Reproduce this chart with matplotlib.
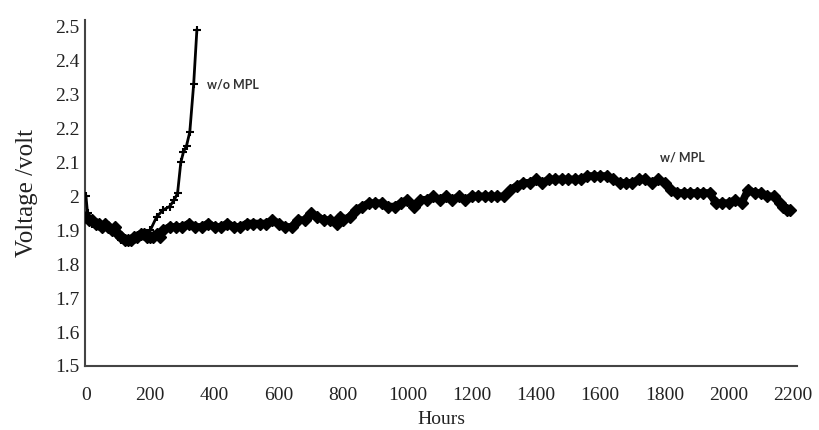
import matplotlib
matplotlib.use("Agg")
import matplotlib.pyplot as plt

# --- data -------------------------------------------------------------
mpl_hours = [0, 10, 20, 30, 40, 50, 60, 70, 80, 90, 100, 110, 120, 130, 140,
             150, 160, 170, 180, 190, 200, 210, 220, 230, 240, 260, 280, 300,
             320, 340, 360, 380, 400, 420, 440, 460, 480, 500, 520, 540, 560,
             580, 600, 620, 640, 660, 680, 700, 720, 740, 760, 780, 790, 800,
             820, 840, 860, 880, 900, 920, 940, 960, 980, 1000, 1020, 1040,
             1060, 1080, 1100, 1120, 1140, 1160, 1180, 1200, 1220, 1240, 1260,
             1280, 1300, 1320, 1340, 1360, 1380, 1400, 1420, 1440, 1460, 1480,
             1500, 1520, 1540, 1560, 1580, 1600, 1620, 1640, 1660, 1680, 1700,
             1720, 1740, 1760, 1780, 1800, 1820, 1840, 1860, 1880, 1900, 1920,
             1940, 1960, 1980, 2000, 2020, 2040, 2060, 2080, 2100, 2120, 2140,
             2160, 2170, 2180, 2190]
mpl_volts = [1.94, 1.93, 1.93, 1.92, 1.92, 1.91, 1.92, 1.91, 1.90, 1.91, 1.89,
             1.88, 1.87, 1.87, 1.87, 1.88, 1.88, 1.89, 1.89, 1.88, 1.88, 1.88,
             1.89, 1.88, 1.90, 1.91, 1.91, 1.91, 1.92, 1.91, 1.91, 1.92, 1.91,
             1.91, 1.92, 1.91, 1.91, 1.92, 1.92, 1.92, 1.92, 1.93, 1.92, 1.91,
             1.91, 1.93, 1.93, 1.95, 1.94, 1.93, 1.93, 1.92, 1.94, 1.93, 1.94,
             1.96, 1.97, 1.98, 1.98, 1.98, 1.97, 1.97, 1.98, 1.99, 1.97, 1.99,
             1.99, 2.00, 1.99, 2.00, 1.99, 2.00, 1.99, 2.00, 2.00, 2.00, 2.00,
             2.00, 2.00, 2.02, 2.03, 2.04, 2.04, 2.05, 2.04, 2.05, 2.05, 2.05,
             2.05, 2.05, 2.05, 2.06, 2.06, 2.06, 2.06, 2.05, 2.04, 2.04, 2.04,
             2.05, 2.05, 2.04, 2.05, 2.04, 2.02, 2.01, 2.01, 2.01, 2.01, 2.01,
             2.01, 1.98, 1.98, 1.98, 1.99, 1.98, 2.02, 2.01, 2.01, 2.00, 2.00,
             1.98, 1.97, 1.96, 1.96]

nompl_hours = [0, 5, 20, 50, 80, 110, 140, 170, 200, 220, 240, 260, 275, 285,
               295, 303, 313, 323, 335, 345]
nompl_volts = [2.00, 1.95, 1.92, 1.91, 1.90, 1.87, 1.87, 1.88, 1.90, 1.94,
               1.96, 1.97, 1.99, 2.01, 2.10, 2.13, 2.15, 2.19, 2.33, 2.49]

x_ticks = [0, 200, 400, 600, 800, 1000, 1200, 1400, 1600, 1800, 2000, 2200]
y_ticks = [1.5, 1.6, 1.7, 1.8, 1.9, 2.0, 2.1, 2.2, 2.3, 2.4, 2.5]
y_tick_labels = ["1.5", "1.6", "1.7", "1.8", "1.9", "2", "2.1", "2.2", "2.3",
                 "2.4", "2.5"]

# --- figure -----------------------------------------------------------
fig = plt.figure(figsize=(8.19, 4.30), dpi=100)
ax = fig.add_axes([85 / 819, 64 / 430, (797 - 85) / 819, (366 - 20) / 430])

ax.plot(mpl_hours, mpl_volts, color="black", lw=5.5, marker="D",
        markersize=6, solid_joinstyle="round", solid_capstyle="round",
        zorder=3)
ax.plot(nompl_hours, nompl_volts, color="black", lw=2, marker="+",
        markersize=6, markeredgewidth=1.5, zorder=4)

ax.set_xlim(-3, 2212)
ax.set_ylim(1.5, 2.52)
ax.set_xticks(x_ticks)
ax.set_xticklabels([str(t) for t in x_ticks])
ax.set_yticks(y_ticks)
ax.set_yticklabels(y_tick_labels)

serif = "Liberation Serif"
for lab in ax.get_xticklabels() + ax.get_yticklabels():
    lab.set_fontfamily(serif)
    lab.set_fontsize(14)
    lab.set_color("#222222")
ax.tick_params(axis="both", length=0)
ax.tick_params(axis="x", pad=15)
ax.tick_params(axis="y", pad=4)

for s in ["top", "right"]:
    ax.spines[s].set_visible(False)
for s in ["left", "bottom"]:
    ax.spines[s].set_color("#444444")
    ax.spines[s].set_linewidth(1.5)

ax.set_ylabel("Voltage /volt", fontfamily=serif, fontsize=18, color="#222222",
              labelpad=12)
ax.set_xlabel("Hours", fontfamily=serif, fontsize=14, color="#222222",
              labelpad=5)

ax.text(376, 2.33, "w/o MPL", fontfamily="Lato", fontsize=9,
        fontweight="bold", color="#333333", va="center", ha="left")
ax.text(1786, 2.115, "w/ MPL", fontfamily="Lato", fontsize=9,
        fontweight="bold", color="#333333", va="center", ha="left")

fig.savefig("out.png", dpi=100)
